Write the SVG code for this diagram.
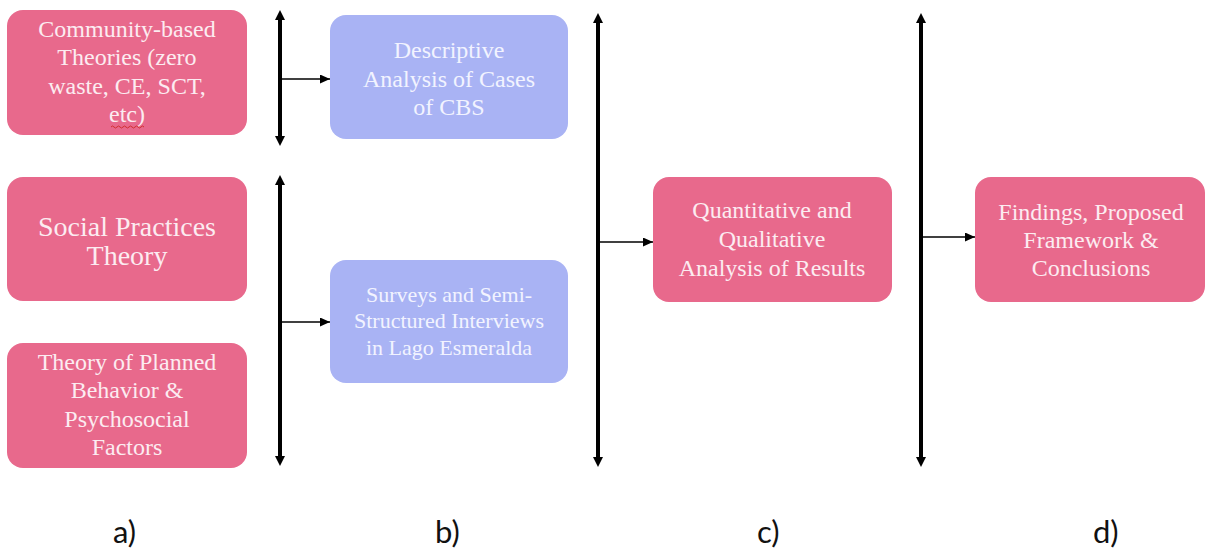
<svg xmlns="http://www.w3.org/2000/svg" width="1207" height="552" viewBox="0 0 1207 552">
<style>
.pink{fill:#e8698c}
.blue{fill:#a9b3f4}
.t{font-family:"Liberation Serif","Times New Roman",serif;font-size:24px;text-anchor:middle}
.tp{fill:#fcecf1}
.tb{fill:#f2f3ff}
.v{stroke:#000;stroke-width:4;fill:none}
.h{stroke:#000;stroke-width:1.6;fill:none}
.lab{font-family:Lato,"Open Sans",sans-serif;font-size:31px;fill:#111}
</style>
<defs>
<marker id="vh" markerUnits="userSpaceOnUse" viewBox="0 0 10 10" refX="4" refY="5" markerWidth="10" markerHeight="10" orient="auto-start-reverse"><path d="M0,0 L10,5 L0,10 z" fill="#000"/></marker>
<marker id="hh" markerUnits="userSpaceOnUse" viewBox="0 0 10 9" refX="10" refY="4.5" markerWidth="10" markerHeight="9" orient="auto"><path d="M0,0 L10,4.5 L0,9 z" fill="#000"/></marker>
</defs>

<g id="n-community">
<rect class="pink" x="7" y="10" width="240" height="125" rx="16"/>
<text class="t tp"><tspan x="127" y="37">Community-based</tspan><tspan x="127" y="65">Theories (zero</tspan><tspan x="127" y="94">waste, CE, SCT,</tspan><tspan x="127" y="122">etc)</tspan></text>
<path d="M111,127 q1.5,-2 3,0 t3,0 t3,0 t3,0 t3,0 t3,0 t3,0 t3,0 t3,0 t3,0 t3,0" fill="none" stroke="#d03030" stroke-width="1"/>
</g>

<g id="n-social">
<rect class="pink" x="7" y="177" width="240" height="124" rx="16"/>
<text class="t tp" style="font-size:28px"><tspan x="127" y="236">Social Practices</tspan><tspan x="127" y="265">Theory</tspan></text>
</g>

<g id="n-tpb">
<rect class="pink" x="7" y="343" width="240" height="125" rx="16"/>
<text class="t tp"><tspan x="127" y="370">Theory of Planned</tspan><tspan x="127" y="398">Behavior &amp;</tspan><tspan x="127" y="427">Psychosocial</tspan><tspan x="127" y="455">Factors</tspan></text>
</g>

<g id="n-descriptive">
<rect class="blue" x="330" y="15" width="238" height="124" rx="16"/>
<text class="t tb"><tspan x="449" y="58">Descriptive</tspan><tspan x="449" y="87">Analysis of Cases</tspan><tspan x="449" y="115">of CBS</tspan></text>
</g>

<g id="n-surveys">
<rect class="blue" x="330" y="260" width="238" height="123" rx="16"/>
<text class="t tb" style="font-size:22px"><tspan x="449" y="302">Surveys and Semi-</tspan><tspan x="449" y="328">Structured Interviews</tspan><tspan x="449" y="355">in Lago Esmeralda</tspan></text>
</g>

<g id="n-analysis">
<rect class="pink" x="653" y="177" width="239" height="125" rx="16"/>
<text class="t tp"><tspan x="772" y="218">Quantitative and</tspan><tspan x="772" y="247">Qualitative</tspan><tspan x="772" y="276">Analysis of Results</tspan></text>
</g>

<g id="n-findings">
<rect class="pink" x="975" y="177" width="230" height="125" rx="16"/>
<text class="t tp"><tspan x="1091" y="220">Findings, Proposed</tspan><tspan x="1091" y="248">Framework &amp;</tspan><tspan x="1091" y="276">Conclusions</tspan></text>
</g>

<g id="connectors">
<line class="v" x1="280" y1="16" x2="280" y2="140" marker-start="url(#vh)" marker-end="url(#vh)"/>
<line class="v" x1="280" y1="181" x2="280" y2="460" marker-start="url(#vh)" marker-end="url(#vh)"/>
<line class="v" x1="598" y1="19" x2="598" y2="461" marker-start="url(#vh)" marker-end="url(#vh)"/>
<line class="v" x1="921" y1="19" x2="921" y2="461" marker-start="url(#vh)" marker-end="url(#vh)"/>
<line class="h" x1="282" y1="79" x2="330" y2="79" marker-end="url(#hh)"/>
<line class="h" x1="282" y1="322" x2="330" y2="322" marker-end="url(#hh)"/>
<line class="h" x1="600" y1="242" x2="653" y2="242" marker-end="url(#hh)"/>
<line class="h" x1="923" y1="237" x2="975" y2="237" marker-end="url(#hh)"/>
</g>

<g id="labels">
<text class="lab" x="113" y="543">a)</text>
<text class="lab" x="435" y="543">b)</text>
<text class="lab" x="757" y="543">c)</text>
<text class="lab" x="1093" y="543">d)</text>
</g>
</svg>
